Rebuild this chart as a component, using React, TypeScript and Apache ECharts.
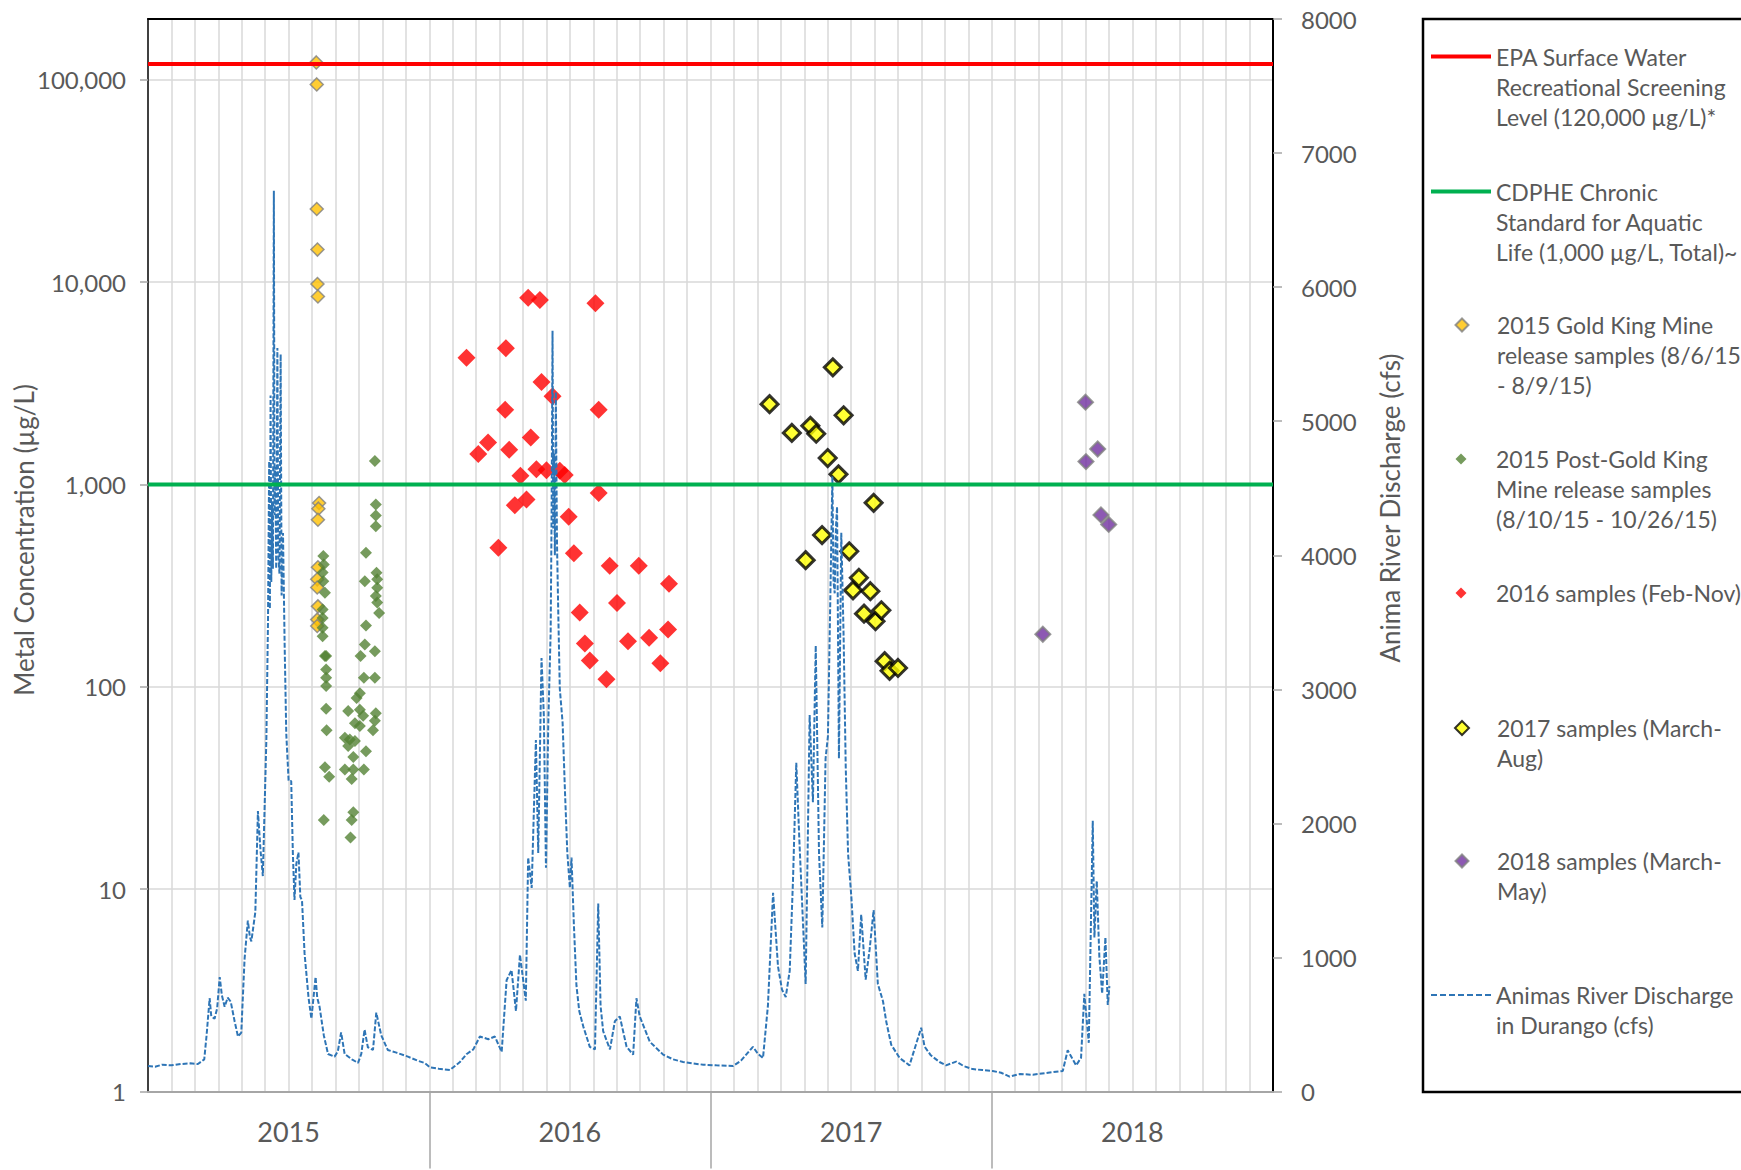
import React, { useEffect, useRef } from "react";
import * as echarts from "echarts";

// ---- DATA (x = months since 1 Jan 2015) ----
const yearLabels = ["2015", "2016", "2017", "2018"];
const yearBoundaries = [12, 24, 36];
const yearCenters = [6, 18, 30, 42];
const logTicks = [1, 10, 100, 1000, 10000, 100000];

const epaLevel = 120000;
const cdpheLevel = 1000;

const gold2015: number[][] = [
  [7.18, 122000], [7.2, 95000], [7.2, 23000], [7.23, 14500], [7.23, 9800], [7.25, 8500],
  [7.3, 810], [7.27, 760], [7.25, 670], [7.25, 390], [7.22, 340], [7.22, 310],
  [7.25, 250], [7.22, 215], [7.22, 200],
];

const green2015: number[][] = [
  [7.48, 443], [7.5, 403], [7.45, 367], [7.48, 333], [7.55, 292], [7.45, 241], [7.45, 219],
  [7.45, 196], [7.45, 178], [7.55, 142], [7.6, 142], [7.6, 122], [7.6, 111], [7.6, 101],
  [7.6, 78], [7.62, 61], [7.55, 40], [7.73, 36], [7.5, 22],
  [9.3, 460], [9.25, 333], [9.3, 201], [9.25, 162], [9.07, 142], [9.21, 111], [9.04, 93],
  [8.9, 88], [8.54, 76], [9.04, 77], [9.18, 72], [8.83, 66], [9.04, 64], [8.4, 56],
  [8.61, 55], [8.83, 54], [8.54, 51], [8.76, 45], [9.3, 48], [8.4, 39], [8.76, 39],
  [8.69, 35], [9.21, 39], [8.76, 24], [8.69, 22], [8.64, 18],
  [9.68, 1307], [9.72, 797], [9.72, 703], [9.72, 622], [9.75, 366], [9.78, 340],
  [9.78, 309], [9.72, 281], [9.78, 261], [9.86, 232], [9.68, 150], [9.68, 111],
  [9.72, 74], [9.68, 68], [9.6, 61],
];

const red2016: number[][] = [
  [13.59, 4230], [14.09, 1417], [14.51, 1615], [14.95, 487], [15.24, 2340], [15.27, 4720],
  [15.41, 1486], [15.65, 790], [15.89, 1104], [16.15, 844], [16.22, 8390], [16.33, 1710],
  [16.57, 1189], [16.72, 8170], [16.79, 3215], [17.0, 1178], [17.26, 2735], [17.57, 1170],
  [17.78, 1115], [17.95, 693], [18.17, 458], [18.42, 233], [18.64, 164], [18.85, 135],
  [19.09, 7870], [19.23, 2340], [19.23, 908], [19.56, 109], [19.7, 397], [20.01, 260],
  [20.48, 168], [20.94, 397], [21.38, 175], [21.86, 131], [22.19, 192], [22.23, 323],
];

const yellow2017: number[][] = [
  [26.52, 2497], [27.47, 1800], [28.06, 423], [28.26, 1950], [28.51, 1783], [28.76, 563],
  [29.0, 1352], [29.22, 3795], [29.46, 1123], [29.68, 2200], [29.92, 468], [30.08, 300],
  [30.33, 346], [30.55, 230], [30.82, 297], [30.96, 812], [31.04, 211], [31.29, 239],
  [31.43, 134], [31.64, 120], [32.0, 124],
];

const purple2018: number[][] = [
  [38.18, 182], [40.0, 2553], [40.02, 1298], [40.52, 1499], [40.66, 708], [40.99, 635],
];

// Animas River discharge (cfs), right axis
const discharge: number[][] = [
  [0, 190], [0.3, 185], [0.6, 200], [1, 195], [1.4, 205], [1.8, 210], [2.13, 205], [2.4, 240],
  [2.5, 420], [2.63, 697], [2.7, 560], [2.84, 543], [2.95, 620], [3.06, 854], [3.15, 720],
  [3.27, 632], [3.4, 700], [3.53, 670], [3.7, 520], [3.84, 410], [3.98, 440], [4.12, 988],
  [4.26, 1274], [4.35, 1150], [4.41, 1120], [4.58, 1340], [4.69, 2092], [4.8, 1800],
  [4.9, 1607], [5.05, 2624], [5.12, 3510], [5.17, 4700], [5.2, 3600], [5.23, 5192],
  [5.26, 3800], [5.29, 4400], [5.33, 3900], [5.37, 6719], [5.4, 4300], [5.43, 4660],
  [5.47, 3900], [5.52, 5546], [5.56, 4000], [5.61, 3863], [5.66, 5500], [5.7, 3700],
  [5.76, 4165], [5.83, 3332], [5.9, 2668], [6.0, 2316], [6.11, 2316], [6.18, 1783],
  [6.25, 1428], [6.33, 1700], [6.42, 1783], [6.5, 1450], [6.57, 1428], [6.68, 1030],
  [6.85, 700], [6.97, 543], [7.15, 854], [7.22, 700], [7.32, 632], [7.5, 420], [7.68, 280],
  [7.96, 260], [8.1, 300], [8.24, 440], [8.39, 280], [8.7, 240], [8.96, 213], [9.1, 280],
  [9.24, 462], [9.38, 330], [9.6, 310], [9.74, 588], [9.95, 420], [10.23, 310], [10.6, 290],
  [11.09, 260], [11.5, 230], [11.8, 213], [12.03, 180], [12.4, 170], [12.88, 160],
  [13.31, 220], [13.6, 280], [13.88, 314], [14.16, 410], [14.52, 390], [14.8, 410],
  [15.09, 295], [15.3, 830], [15.51, 906], [15.7, 600], [15.87, 1020], [16.12, 677],
  [16.22, 1745], [16.37, 1518], [16.55, 2622], [16.65, 1780], [16.79, 3234], [16.89, 2800],
  [16.98, 1669], [17.08, 2760], [17.18, 3424], [17.22, 4300], [17.26, 5675], [17.29, 4200],
  [17.32, 4759], [17.36, 4000], [17.4, 5218], [17.45, 4100], [17.5, 3614], [17.57, 3005],
  [17.69, 2750], [17.79, 2241], [17.89, 1784], [18.0, 1518], [18.07, 1745], [18.17, 1250],
  [18.28, 791], [18.4, 600], [18.57, 486], [18.85, 333], [19.07, 314], [19.21, 1402],
  [19.31, 638], [19.42, 450], [19.71, 314], [19.92, 524], [20.13, 560], [20.42, 333],
  [20.7, 275], [20.84, 696], [20.98, 560], [21.41, 371], [21.98, 275], [22.4, 240],
  [22.83, 220], [23.2, 210], [23.69, 200], [24.25, 195], [24.96, 190], [25.3, 230],
  [25.68, 307], [25.81, 333], [26.03, 280], [26.24, 250], [26.45, 640], [26.67, 1482],
  [26.88, 932], [27.05, 760], [27.21, 705], [27.38, 900], [27.52, 1578], [27.66, 2452],
  [27.8, 1840], [28.06, 802], [28.23, 2808], [28.37, 2157], [28.49, 3326], [28.63, 1773],
  [28.77, 1223], [28.91, 2484], [29.01, 2650], [29.11, 3650], [29.2, 4588], [29.25, 3800],
  [29.3, 3716], [29.35, 4200], [29.4, 4362], [29.48, 2484], [29.58, 4168], [29.68, 3390],
  [29.77, 2420], [29.87, 1773], [30.01, 1450], [30.15, 1029], [30.29, 900], [30.43, 1320],
  [30.62, 835], [30.79, 1060], [30.96, 1354], [31.14, 802], [31.36, 673], [31.5, 520],
  [31.71, 349], [32.07, 250], [32.49, 195], [32.99, 476], [33.13, 336], [33.4, 270],
  [33.77, 220], [34.05, 195], [34.48, 223], [34.8, 190], [35.19, 167], [35.6, 160],
  [36.04, 153], [36.4, 140], [36.76, 111], [37.2, 130], [37.75, 125], [38.4, 140],
  [39.03, 153], [39.24, 307], [39.6, 195], [39.81, 251], [39.95, 729], [40.14, 363],
  [40.31, 2019], [40.38, 1149], [40.48, 1570], [40.59, 1010], [40.71, 730], [40.85, 1149],
  [40.95, 645], [41.02, 786],
];

const names = {
  epa: "EPA Surface Water Recreational Screening Level (120,000 µg/L)*",
  cdphe: "CDPHE Chronic Standard for Aquatic Life (1,000 µg/L, Total)~",
  gold: "2015 Gold King Mine release samples (8/6/15 - 8/9/15)",
  green: "2015 Post-Gold King Mine release samples (8/10/15 - 10/26/15)",
  red: "2016 samples (Feb-Nov)",
  yellow: "2017 samples (March-Aug)",
  purple: "2018 samples (March-May)",
  flow: "Animas River Discharge in Durango (cfs)",
};

const legendLines: Record<string, string[]> = {
  [names.epa]: ["EPA Surface Water", "Recreational Screening", "Level (120,000 µg/L)*"],
  [names.cdphe]: ["CDPHE Chronic", "Standard for Aquatic", "Life (1,000 µg/L, Total)~"],
  [names.gold]: ["2015 Gold King Mine", "release samples (8/6/15", "- 8/9/15)"],
  [names.green]: ["2015 Post-Gold King", "Mine release samples", "(8/10/15 - 10/26/15)"],
  [names.red]: ["2016 samples (Feb-Nov)"],
  [names.yellow]: ["2017 samples (March-", "Aug)"],
  [names.purple]: ["2018 samples (March-", "May)"],
  [names.flow]: ["Animas River Discharge", "in Durango (cfs)"],
};

const FONT = "Lato";
const TXT = "#595959";
const LH = 30;
const LEG_ICON_CX = 1461;
const LEG_TEXT_X = 1496;

const dashIcon =
  "path://M0,0h6v2h-6z M9,0h6v2h-6z M18,0h6v2h-6z M27,0h6v2h-6z M36,0h6v2h-6z M45,0h6v2h-6z M54,0h6v2h-6z";

function legendFor(name: string, iconY: number, iconW: number, iconH: number, icon?: string) {
  const lines = legendLines[name];
  const n = lines.length;
  const left = LEG_ICON_CX - iconW / 2;
  const padLeft = LEG_TEXT_X - (left + iconW + 5);
  return {
    data: [icon ? { name, icon } : { name }],
    left,
    top: iconY - ((2 * n - 1) * LH) / 2,
    orient: "vertical",
    padding: 0,
    itemWidth: iconW,
    itemHeight: iconH,
    selectedMode: false,
    formatter: (nm: string) => {
      const ls = legendLines[nm];
      return "\n".repeat(ls.length - 1) + ls.join("\n");
    },
    textStyle: {
      fontFamily: FONT,
      fontSize: 23,
      color: TXT,
      lineHeight: LH,
      padding: [0, 0, 0, padLeft],
    },
  };
}

export default function App() {
  const ref = useRef<HTMLDivElement>(null);

  useEffect(() => {
    const chart = echarts.init(ref.current!, undefined, { renderer: "svg" });
    const option: any = {
      animation: false,
      backgroundColor: "#ffffff",
      grid: { left: 148, top: 19, right: 468, bottom: 78.5, containLabel: false },
      xAxis: [
        {
          type: "value", min: 0, max: 48, interval: 1, position: "bottom",
          axisLine: { show: true, onZero: false, lineStyle: { color: "#A6A6A6", width: 2 } },
          axisTick: { show: false }, axisLabel: { show: false },
          minorTick: { show: false },
          splitLine: { show: true, lineStyle: { color: "#D9D9D9", width: 1.5 } },
        },
        {
          type: "value", min: 0, max: 48, position: "bottom",
          axisLine: { show: false, onZero: false },
          axisTick: { show: true, customValues: yearBoundaries, length: 77, lineStyle: { color: "#A6A6A6", width: 1.5 } },
          axisLabel: {
            show: true, customValues: yearCenters, margin: 26,
            formatter: (v: number) => yearLabels[Math.round((v - 6) / 12)] ?? "",
            fontFamily: FONT, fontSize: 27, color: TXT,
          },
          splitLine: { show: false },
        },
        {
          type: "value", min: 0, max: 48, position: "top",
          axisLine: { show: true, onZero: false, lineStyle: { color: "#000000", width: 2 } },
          axisTick: { show: false }, axisLabel: { show: false }, splitLine: { show: false },
        },
      ],
      yAxis: [
        {
          type: "log", logBase: 10, min: 1, max: 200000, position: "left",
          axisLine: { show: true, onZero: false, lineStyle: { color: "#404040", width: 2 } },
          axisTick: { show: true, length: 8, customValues: logTicks, lineStyle: { color: "#A6A6A6", width: 1.5 } },
          minorTick: { show: false },
          minorSplitLine: { show: false },
          axisLabel: {
            margin: 22, showMaxLabel: false, fontFamily: FONT, fontSize: 24, color: TXT,
            formatter: (v: number) => Math.round(v).toLocaleString("en-US"),
          },
          splitLine: { show: true, lineStyle: { color: "#D9D9D9", width: 1.5 } },
        },
        {
          type: "value", min: 0, max: 8000, interval: 1000, position: "right",
          axisLine: { show: true, onZero: false, lineStyle: { color: "#000000", width: 2 } },
          axisTick: { show: true, length: 9, lineStyle: { color: "#A6A6A6", width: 1.5 } },
          minorTick: { show: false },
          axisLabel: {
            margin: 28, fontFamily: FONT, fontSize: 24, color: TXT,
            formatter: (v: number) => String(v),
          },
          splitLine: { show: false },
        },
      ],
      legend: [
        legendFor(names.epa, 56.5, 60, 4, "rect"),
        legendFor(names.cdphe, 191.5, 60, 4, "rect"),
        legendFor(names.gold, 325, 13, 13),
        legendFor(names.green, 459, 11, 11),
        legendFor(names.red, 593, 11, 11),
        legendFor(names.yellow, 728, 14, 14),
        legendFor(names.purple, 861, 13, 13),
        legendFor(names.flow, 995, 60, 2, dashIcon),
      ],
      series: [
        {
          name: names.gold, type: "scatter", symbol: "diamond", symbolSize: 13, z: 3,
          itemStyle: { color: "#FFC000", borderColor: "#7F7F7F", borderWidth: 1.5 },
          data: gold2015,
        },
        {
          name: names.green, type: "scatter", symbol: "diamond", symbolSize: 12, z: 3,
          itemStyle: { color: "#548235" },
          data: green2015,
        },
        {
          name: names.red, type: "scatter", symbol: "diamond", symbolSize: 18, z: 3,
          itemStyle: { color: "#FF0000" },
          data: red2016,
        },
        {
          name: names.yellow, type: "scatter", symbol: "diamond", symbolSize: 17, z: 3,
          itemStyle: { color: "#FFFF00", borderColor: "#000000", borderWidth: 3 },
          data: yellow2017,
        },
        {
          name: names.purple, type: "scatter", symbol: "diamond", symbolSize: 15, z: 3,
          itemStyle: { color: "#7030A0", borderColor: "#7F7F7F", borderWidth: 2 },
          data: purple2018,
        },
        {
          name: names.flow, type: "line", xAxisIndex: 0, yAxisIndex: 1, symbol: "none", z: 4,
          lineStyle: { color: "#2E75B6", width: 2, type: [5, 2] },
          itemStyle: { color: "#2E75B6" },
          data: discharge,
        },
        {
          name: names.epa, type: "line", symbol: "none", z: 5,
          lineStyle: { color: "#FF0000", width: 4 }, itemStyle: { color: "#FF0000" },
          data: [[0, epaLevel], [48, epaLevel]],
        },
        {
          name: names.cdphe, type: "line", symbol: "none", z: 5,
          lineStyle: { color: "#00B050", width: 4 }, itemStyle: { color: "#00B050" },
          data: [[0, cdpheLevel], [48, cdpheLevel]],
        },
      ],
      graphic: [
        {
          type: "rect", silent: true, z: 10,
          shape: { x: 1423, y: 19, width: 400, height: 1073 },
          style: { fill: "none", stroke: "#000000", lineWidth: 2.5 },
        },
        {
          type: "text", x: 24, y: 540, rotation: Math.PI / 2, silent: true,
          style: {
            text: "Metal Concentration (µg/L)", fontFamily: FONT, fontSize: 26,
            fill: TXT, align: "center", verticalAlign: "middle",
          },
        },
        {
          type: "text", x: 1390, y: 508, rotation: Math.PI / 2, silent: true,
          style: {
            text: "Anima River Discharge (cfs)", fontFamily: FONT, fontSize: 26,
            fill: TXT, align: "center", verticalAlign: "middle",
          },
        },
      ],
    };
    chart.setOption(option);
    return () => chart.dispose();
  }, []);

  return (
    <div
      ref={ref}
      style={{ position: "absolute", left: 0, top: 0, width: 1741, height: 1170, background: "#fff" }}
    />
  );
}
